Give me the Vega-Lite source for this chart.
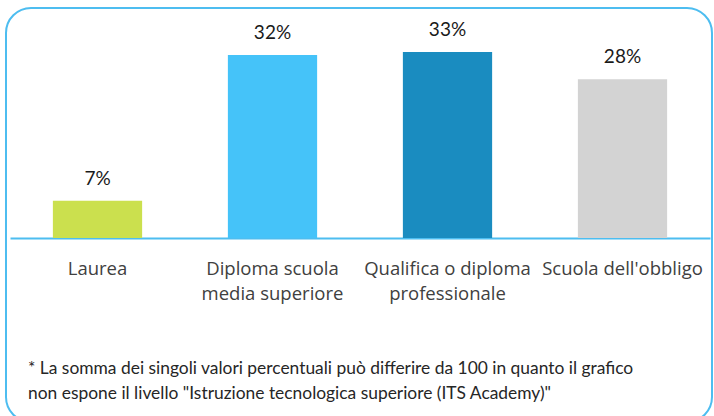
{
  "$schema": "https://vega.github.io/schema/vega-lite/v6.json",
  "autosize": "none",
  "width": 706,
  "height": 414,
  "padding": {"left": 6, "top": 8, "right": 2, "bottom": 0},
  "background": "white",
  "config": {
    "view": {"stroke": "#4dbdf0", "strokeWidth": 2, "cornerRadius": 25},
    "axis": {"grid": false}
  },
  "title": {
    "text": ["* La somma dei singoli valori percentuali può differire da 100 in quanto il grafico", "non espone il livello \"Istruzione tecnologica superiore (ITS Academy)\""],
    "orient": "bottom",
    "anchor": "start",
    "frame": "group",
    "offset": -62,
    "dx": 22,
    "font": "Lato",
    "fontSize": 17.4,
    "fontWeight": "normal",
    "color": "#262626",
    "lineHeight": 25,
    "baseline": "top"
  },
  "data": {
    "values": [
      {"categoria": "Laurea", "valore": 6.6, "etichetta": "7%"},
      {"categoria": "Diploma scuola media superiore", "valore": 32.4, "etichetta": "32%"},
      {"categoria": "Qualifica o diploma professionale", "valore": 32.9, "etichetta": "33%"},
      {"categoria": "Scuola dell'obbligo", "valore": 28.1, "etichetta": "28%"}
    ]
  },
  "encoding": {
    "x": {
      "field": "categoria",
      "type": "nominal",
      "sort": null,
      "scale": {"range": [4, 704], "paddingInner": 0.49, "paddingOuter": 0.245},
      "axis": {
        "title": null,
        "orient": "bottom",
        "offset": -184,
        "domainColor": "#4dbdf0",
        "domainWidth": 2,
        "ticks": false,
        "labelAngle": 0,
        "labelFont": "Open Sans",
        "labelFontSize": 18.5,
        "labelColor": "#404040",
        "labelPadding": 30,
        "labelLineHeight": 25,
        "labelBaseline": "middle",
        "labelExpr": "datum.value == 'Diploma scuola media superiore' ? ['Diploma scuola', 'media superiore'] : datum.value == 'Qualifica o diploma professionale' ? ['Qualifica o diploma', 'professionale'] : datum.value"
      }
    },
    "y": {
      "field": "valore",
      "type": "quantitative",
      "scale": {"domain": [-32.57, 40.71], "nice": false, "zero": false},
      "axis": null
    }
  },
  "layer": [
    {
      "mark": {"type": "bar", "orient": "vertical"},
      "encoding": {
        "y2": {"datum": 0},
        "color": {
          "field": "categoria",
          "type": "nominal",
          "sort": null,
          "scale": {"range": ["#cbe04e", "#45c3f9", "#1a8cc0", "#d3d3d3"]},
          "legend": null
        }
      }
    },
    {
      "mark": {"type": "text", "baseline": "alphabetic", "dy": -16, "font": "Lato", "fontSize": 19, "color": "#1a1a1a"},
      "encoding": {"text": {"field": "etichetta"}}
    }
  ]
}
